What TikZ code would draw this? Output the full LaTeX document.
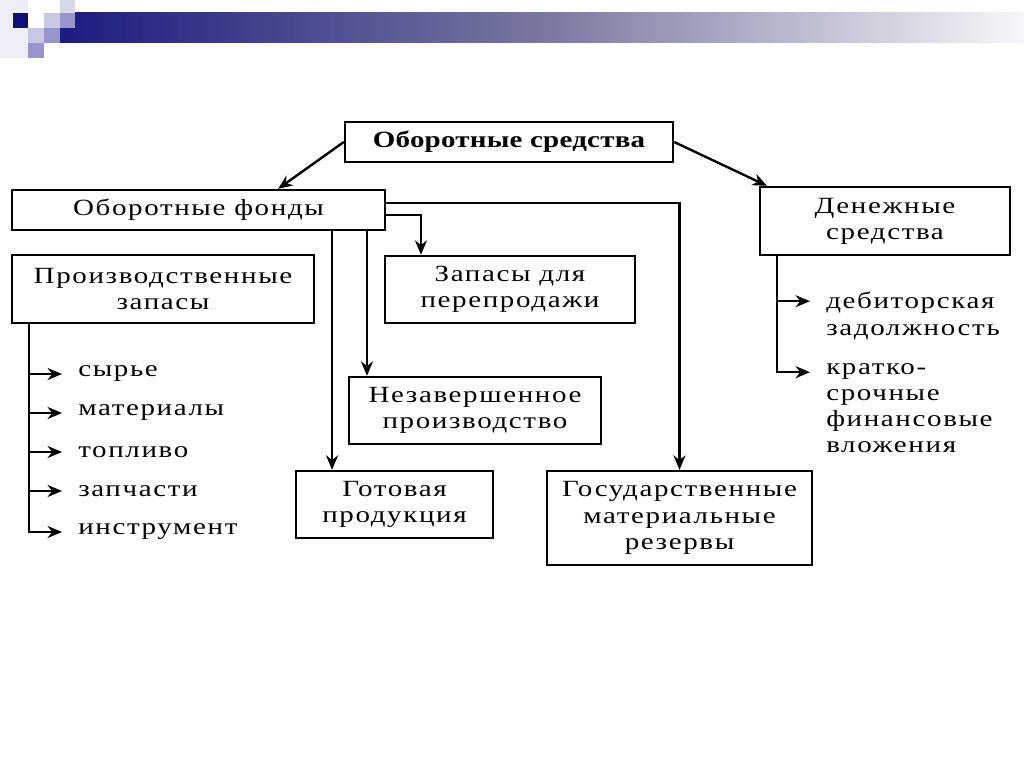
\documentclass[tikz,border=0pt]{standalone}
\usepackage{fontspec}
\setmainfont{Liberation Serif}[FakeStretch=1.25,LetterSpace=7]
\usetikzlibrary{arrows.meta}
\definecolor{navy}{RGB}{16,16,120}
\definecolor{lavA}{RGB}{200,200,228}
\definecolor{lavB}{RGB}{150,150,205}
\definecolor{lavC}{RGB}{215,215,235}
\definecolor{lavD}{RGB}{238,238,246}
\definecolor{barL}{RGB}{28,28,128}
\definecolor{barM}{RGB}{120,120,160}
\definecolor{barR}{RGB}{246,246,249}
\newcommand{\txt}{\fontsize{16.5}{18.6}\selectfont}
\tikzset{
  box/.style 2 args={draw,line width=1.7pt,minimum width=#1*0.025cm,
    minimum height=#2*0.025cm,inner sep=0pt,align=center,font=\txt},
  item/.style={inner sep=0pt,align=left,font=\txt},
  arr/.style={line width=1.7pt,-{Stealth[length=0.36cm,width=0.3cm]}},
  lst/.style={arr,shorten >=0.4cm}
}
\begin{document}
\begin{tikzpicture}[x=0.025cm,y=-0.025cm]
\useasboundingbox (0,0) rectangle (1024,767);
\fill[white] (0,0) rectangle (1024,767);

\fill[lavD] (0,0) rectangle (28,58);
\shade[left color=barL,right color=barR,middle color=barM] (60,13) rectangle (1024,43);
\fill[navy] (13,13) rectangle (28,28);
\fill[lavA] (44,13) rectangle (60,28);
\fill[lavB] (60,13) rectangle (75,28);
\fill[lavC] (60,0) rectangle (75,13);
\fill[lavA] (28,28) rectangle (44,43);
\fill[lavB] (44,28) rectangle (60,43);
\fill[lavB] (28,43) rectangle (44,58);

\node[box={328}{40},font=\txt\bfseries\addfontfeature{LetterSpace=1}] (sred) at (509,142) {Оборотные средства};
\node[box={373}{40}] (fond) at (198.5,210) {Оборотные фонды};
\node[box={302}{68}] (proizv) at (163,289) {Производственные\\запасы};
\node[box={250}{67}] (pereprod) at (510,289.5) {Запасы для\\перепродажи};
\node[box={252}{67}] (nezav) at (475,410.5) {Незавершенное\\производство};
\node[box={197}{67}] (gotov) at (394.5,504.5) {Готовая\\продукция};
\node[box={265}{94}] (gos) at (679.5,518) {Государственные\\материальные\\резервы};
\node[box={250}{68}] (den) at (885,221) {Денежные\\средства};

\draw[arr] (sred.west) -- ([xshift=1.99cm]fond.north);
\draw[arr] (sred.east) -- ([xshift=-2.95cm]den.north);
\draw[arr] ([yshift=0.175cm]fond.east) -| (gos.north);
\draw[arr] ([yshift=-0.125cm]fond.east) -| ([xshift=-2.225cm]pereprod.north);
\draw[arr] ([xshift=-1.56cm]gotov.north |- fond.south) -- ([xshift=-1.56cm]gotov.north);
\draw[arr] ([xshift=-2.7cm]nezav.north |- fond.south) -- ([xshift=-2.7cm]nezav.north);

\node[item,anchor=west] (syr) at (78,374) {сырье};
\node[item,anchor=west] (mat) at (78,413) {материалы};
\node[item,anchor=west] (topl) at (78,452) {топливо};
\node[item,anchor=west] (zap) at (78,491) {запчасти};
\node[item,anchor=west] (instr) at (78,532) {инструмент};
\foreach \n in {syr,mat,topl,zap,instr}
  \draw[lst] ([xshift=0.45cm]proizv.south west) |- (\n.west);

\node[item,anchor=north west] (deb) at (826,292) {дебиторская\\задолжность};
\node[item,anchor=north west] (krat) at (826,363) {кратко-\\срочные\\финансовые\\вложения};
\foreach \n in {deb,krat}
  \draw[lst] ([xshift=0.45cm]den.south west) |- ([yshift=-0.23cm]\n.north west);
\end{tikzpicture}
\end{document}
